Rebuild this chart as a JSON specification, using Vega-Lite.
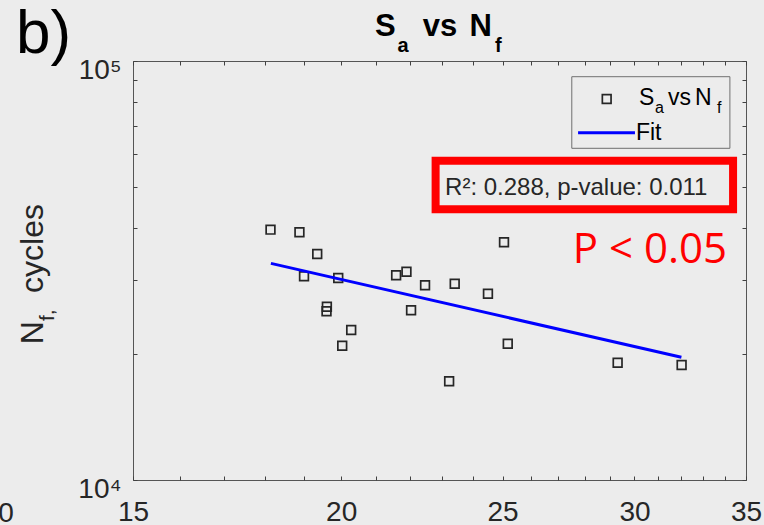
{
  "$schema": "https://vega.github.io/schema/vega-lite/v6.json",
  "autosize": {"type": "none"},
  "padding": {"left": 133, "top": 61, "right": 18, "bottom": 45},
  "width": 613,
  "height": 419,
  "background": "#ececec",
  "config": {
    "font": "Liberation Sans",
    "view": {"stroke": "#555555", "strokeWidth": 1, "fill": null},
    "axis": {
      "domain": false,
      "grid": false,
      "title": null,
      "labelFont": "Liberation Sans",
      "labelFontSize": 28,
      "labelColor": "#262626",
      "tickColor": "#404040",
      "tickWidth": 1,
      "labelFlush": false,
      "labelOverlap": false
    }
  },
  "layer": [
    {
      "data": {"values": [
        {"Sa": 18.14, "Nf": 39580},
        {"Sa": 18.88, "Nf": 39020},
        {"Sa": 19.35, "Nf": 34620},
        {"Sa": 19.00, "Nf": 30630},
        {"Sa": 19.92, "Nf": 30340},
        {"Sa": 19.61, "Nf": 25920},
        {"Sa": 19.60, "Nf": 25270},
        {"Sa": 20.28, "Nf": 22800},
        {"Sa": 20.03, "Nf": 20920},
        {"Sa": 21.58, "Nf": 30800},
        {"Sa": 21.89, "Nf": 31420},
        {"Sa": 22.46, "Nf": 29150},
        {"Sa": 22.03, "Nf": 25410},
        {"Sa": 23.40, "Nf": 29410},
        {"Sa": 24.50, "Nf": 27830},
        {"Sa": 23.22, "Nf": 17200},
        {"Sa": 25.05, "Nf": 36930},
        {"Sa": 25.18, "Nf": 21150},
        {"Sa": 29.31, "Nf": 19050},
        {"Sa": 32.02, "Nf": 18810}
      ]},
      "mark": {"type": "point", "shape": "square", "filled": false, "stroke": "#262626", "strokeWidth": 1.7, "size": 76, "opacity": 1},
      "encoding": {
        "x": {
          "field": "Sa", "type": "quantitative",
          "scale": {"type": "log", "domain": [15, 35], "nice": false},
          "axis": {
            "orient": "bottom",
            "values": [15,16,17,18,19,20,21,22,23,24,25,26,27,28,29,30,31,32,33,34,35],
            "labelExpr": "datum.value % 5 == 0 ? format(datum.value, 'd') : ''",
            "tickSize": -4,
            "labelPadding": 22
          }
        },
        "y": {
          "field": "Nf", "type": "quantitative",
          "scale": {"type": "log", "domain": [10000, 100000], "nice": false},
          "axis": {
            "orient": "left",
            "values": [10000,20000,30000,40000,50000,60000,70000,80000,90000,100000],
            "labelExpr": "datum.value == 10000 ? '10⁴' : datum.value == 100000 ? '10⁵' : ''",
            "tickSize": -4,
            "labelPadding": 16,
            "labelBaseline": "alphabetic",
            "labelOffset": 17
          }
        }
      }
    },
    {
      "data": {"values": [
        {"Sa": 18.15, "Nf": 32890},
        {"Sa": 32.01, "Nf": 19630}
      ]},
      "mark": {"type": "line", "color": "#0000ff", "strokeWidth": 3},
      "encoding": {
        "x": {
          "field": "Sa", "type": "quantitative",
          "scale": {"type": "log", "domain": [15, 35], "nice": false},
          "axis": {
            "orient": "top",
            "labels": false,
            "values": [15,16,17,18,19,20,21,22,23,24,25,26,27,28,29,30,31,32,33,34,35],
            "tickSize": -4
          }
        },
        "y": {
          "field": "Nf", "type": "quantitative",
          "scale": {"type": "log", "domain": [10000, 100000], "nice": false},
          "axis": {
            "orient": "right",
            "labels": false,
            "values": [10000,20000,30000,40000,50000,60000,70000,80000,90000,100000],
            "tickSize": -4
          }
        }
      }
    },
    {
      "data": {"values": [{}]},
      "mark": {"type": "rect", "filled": false, "stroke": "#707070", "strokeWidth": 1},
      "encoding": {
        "x": {"datum": 27.51, "type": "quantitative", "axis": null},
        "x2": {"datum": 34.23},
        "y": {"datum": 91740, "type": "quantitative", "axis": null},
        "y2": {"datum": 61890}
      }
    },
    {
      "data": {"values": [{}]},
      "mark": {"type": "point", "shape": "square", "filled": false, "stroke": "#262626", "strokeWidth": 1.7, "size": 76, "opacity": 1},
      "encoding": {
        "x": {"datum": 28.87, "type": "quantitative", "axis": null},
        "y": {"datum": 81170, "type": "quantitative", "axis": null}
      }
    },
    {
      "data": {"values": [{}]},
      "mark": {"type": "rule", "color": "#0000ff", "strokeWidth": 3},
      "encoding": {
        "x": {"datum": 27.75, "type": "quantitative", "axis": null},
        "x2": {"datum": 30.02},
        "y": {"datum": 67440, "type": "quantitative", "axis": null}
      }
    },
    {
      "data": {"values": [{}]},
      "mark": {"type": "text", "text": "S", "fontSize": 23, "align": "left", "baseline": "alphabetic", "color": "#000000"},
      "encoding": {"x": {"datum": 30.19, "type": "quantitative", "axis": null}, "y": {"datum": 78520, "type": "quantitative", "axis": null}}
    },
    {
      "data": {"values": [{}]},
      "mark": {"type": "text", "text": "a", "fontSize": 16, "align": "left", "baseline": "alphabetic", "color": "#000000"},
      "encoding": {"x": {"datum": 30.86, "type": "quantitative", "axis": null}, "y": {"datum": 75140, "type": "quantitative", "axis": null}}
    },
    {
      "data": {"values": [{}]},
      "mark": {"type": "text", "text": "vs", "fontSize": 23, "align": "left", "baseline": "alphabetic", "color": "#000000"},
      "encoding": {"x": {"datum": 31.42, "type": "quantitative", "axis": null}, "y": {"datum": 78520, "type": "quantitative", "axis": null}}
    },
    {
      "data": {"values": [{}]},
      "mark": {"type": "text", "text": "N", "fontSize": 23, "align": "left", "baseline": "alphabetic", "color": "#000000"},
      "encoding": {"x": {"datum": 32.62, "type": "quantitative", "axis": null}, "y": {"datum": 78520, "type": "quantitative", "axis": null}}
    },
    {
      "data": {"values": [{}]},
      "mark": {"type": "text", "text": "f", "fontSize": 16, "align": "left", "baseline": "alphabetic", "color": "#000000"},
      "encoding": {"x": {"datum": 33.62, "type": "quantitative", "axis": null}, "y": {"datum": 75140, "type": "quantitative", "axis": null}}
    },
    {
      "data": {"values": [{}]},
      "mark": {"type": "text", "text": "Fit", "fontSize": 23, "align": "left", "baseline": "alphabetic", "color": "#000000"},
      "encoding": {"x": {"datum": 30.06, "type": "quantitative", "axis": null}, "y": {"datum": 64790, "type": "quantitative", "axis": null}}
    },
    {
      "data": {"values": [{}]},
      "mark": {"type": "rect", "filled": false, "stroke": "#ff0000", "strokeWidth": 8},
      "encoding": {
        "x": {"datum": 22.79, "type": "quantitative", "axis": null},
        "x2": {"datum": 34.38},
        "y": {"datum": 57790, "type": "quantitative", "axis": null},
        "y2": {"datum": 44290}
      }
    },
    {
      "data": {"values": [{}]},
      "mark": {"type": "text", "text": "R²: 0.288, p-value: 0.011", "fontSize": 24, "align": "left", "baseline": "alphabetic", "color": "#262626"},
      "encoding": {"x": {"datum": 23.09, "type": "quantitative", "axis": null}, "y": {"datum": 47890, "type": "quantitative", "axis": null}}
    },
    {
      "data": {"values": [{}]},
      "mark": {"type": "text", "text": "P < 0.05", "font": "Open Sans", "fontSize": 42, "align": "left", "baseline": "alphabetic", "color": "#ff0000"},
      "encoding": {"x": {"datum": 27.55, "type": "quantitative", "axis": null}, "y": {"datum": 32950, "type": "quantitative", "axis": null}}
    },
    {
      "data": {"values": [{}]},
      "mark": {"type": "text", "text": "S", "fontSize": 31, "fontWeight": "bold", "align": "left", "baseline": "alphabetic", "color": "#000000"},
      "encoding": {"x": {"datum": 20.96, "type": "quantitative", "axis": null}, "y": {"datum": 114730, "type": "quantitative", "axis": null}}
    },
    {
      "data": {"values": [{}]},
      "mark": {"type": "text", "text": "a", "fontSize": 20, "fontWeight": "bold", "align": "left", "baseline": "alphabetic", "color": "#000000"},
      "encoding": {"x": {"datum": 21.62, "type": "quantitative", "axis": null}, "y": {"datum": 105240, "type": "quantitative", "axis": null}}
    },
    {
      "data": {"values": [{}]},
      "mark": {"type": "text", "text": "vs", "fontSize": 31, "fontWeight": "bold", "align": "left", "baseline": "alphabetic", "color": "#000000"},
      "encoding": {"x": {"datum": 22.39, "type": "quantitative", "axis": null}, "y": {"datum": 114730, "type": "quantitative", "axis": null}}
    },
    {
      "data": {"values": [{}]},
      "mark": {"type": "text", "text": "N", "fontSize": 31, "fontWeight": "bold", "align": "left", "baseline": "alphabetic", "color": "#000000"},
      "encoding": {"x": {"datum": 23.88, "type": "quantitative", "axis": null}, "y": {"datum": 114730, "type": "quantitative", "axis": null}}
    },
    {
      "data": {"values": [{}]},
      "mark": {"type": "text", "text": "f", "fontSize": 20, "fontWeight": "bold", "align": "left", "baseline": "alphabetic", "color": "#000000"},
      "encoding": {"x": {"datum": 24.74, "type": "quantitative", "axis": null}, "y": {"datum": 105240, "type": "quantitative", "axis": null}}
    },
    {
      "data": {"values": [{}]},
      "mark": {"type": "text", "text": "N", "fontSize": 32, "angle": 270, "align": "left", "baseline": "alphabetic", "color": "#262626"},
      "encoding": {"x": {"datum": 13.25, "type": "quantitative", "axis": null}, "y": {"datum": 21100, "type": "quantitative", "axis": null}}
    },
    {
      "data": {"values": [{}]},
      "mark": {"type": "text", "text": "f,", "fontSize": 21, "angle": 270, "align": "left", "baseline": "alphabetic", "color": "#262626"},
      "encoding": {"x": {"datum": 13.45, "type": "quantitative", "axis": null}, "y": {"datum": 23950, "type": "quantitative", "axis": null}}
    },
    {
      "data": {"values": [{}]},
      "mark": {"type": "text", "text": "cycles", "fontSize": 32, "angle": 270, "align": "left", "baseline": "alphabetic", "color": "#262626"},
      "encoding": {"x": {"datum": 13.25, "type": "quantitative", "axis": null}, "y": {"datum": 27950, "type": "quantitative", "axis": null}}
    },
    {
      "data": {"values": [{}]},
      "mark": {"type": "text", "text": "b)", "fontSize": 62, "align": "left", "baseline": "alphabetic", "color": "#000000"},
      "encoding": {"x": {"datum": 12.76, "type": "quantitative", "axis": null}, "y": {"datum": 104320, "type": "quantitative", "axis": null}}
    },
    {
      "data": {"values": [{}]},
      "mark": {"type": "text", "text": "0", "fontSize": 28, "align": "left", "baseline": "alphabetic", "color": "#262626"},
      "encoding": {"x": {"datum": 12.45, "type": "quantitative", "axis": null}, "y": {"datum": 7939, "type": "quantitative", "axis": null}}
    }
  ]
}
